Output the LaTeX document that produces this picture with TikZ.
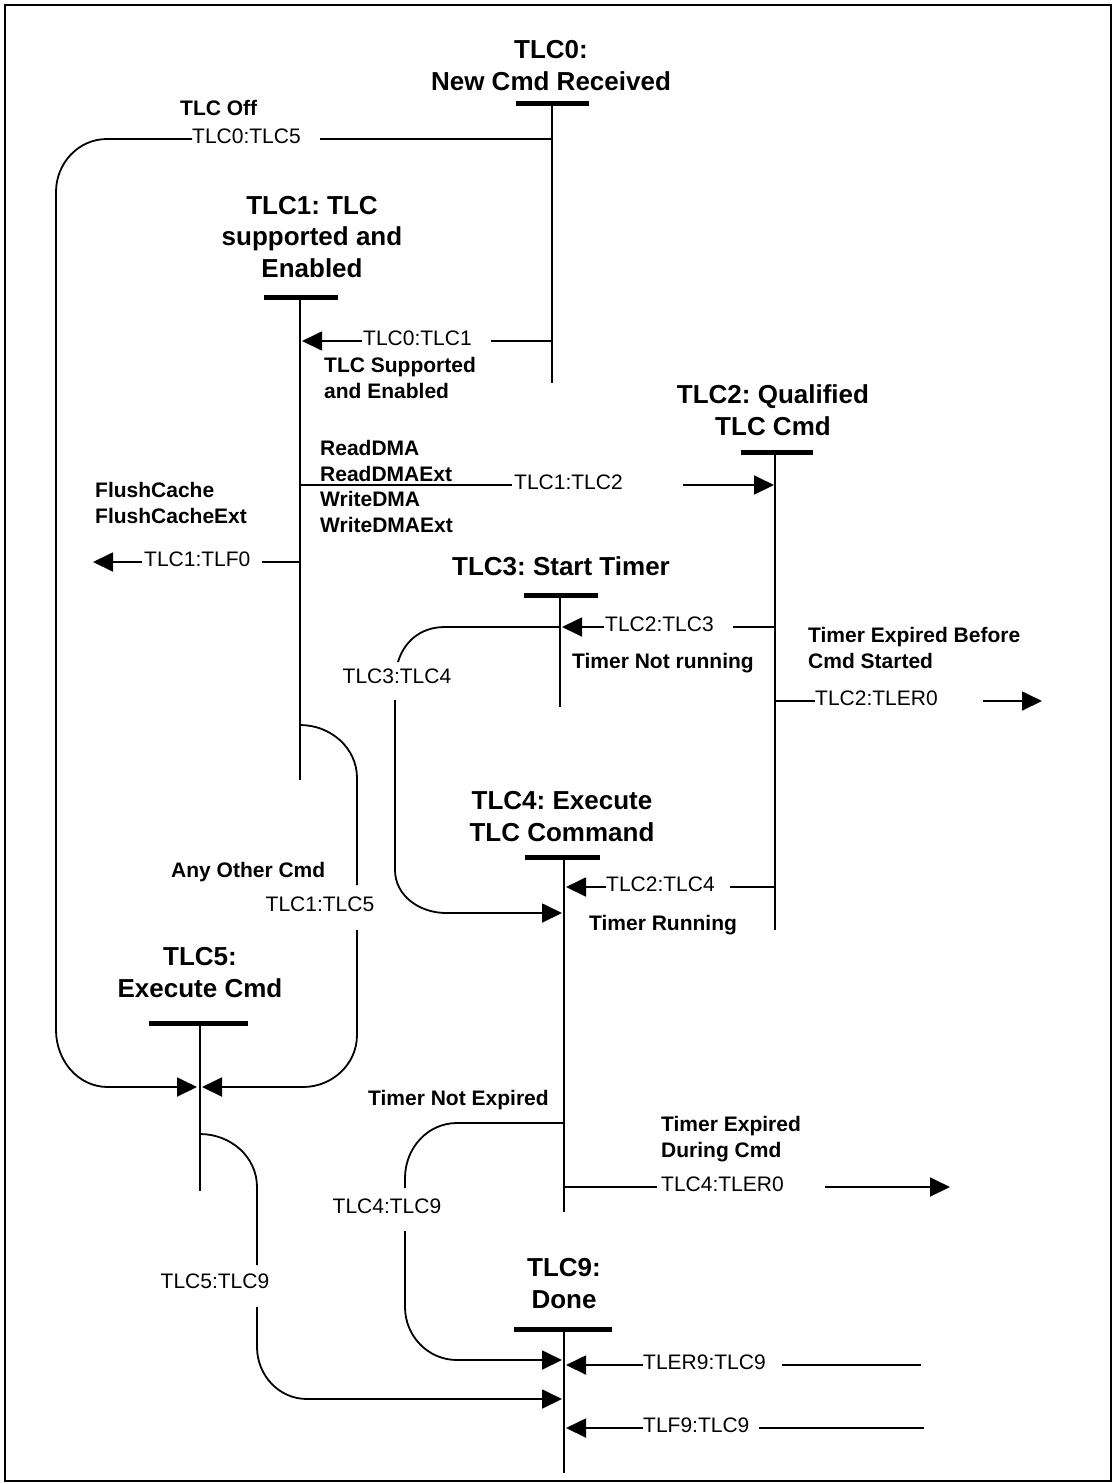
\documentclass[tikz,border=0pt]{standalone}
\usepackage{fontspec}
\setmainfont{Liberation Sans}
\usetikzlibrary{arrows.meta}
\frenchspacing
\tikzset{
  conn/.style={line width=1.8pt},
  arr/.style={conn, -{Triangle[length=20pt,width=19pt]}},
  statebar/.style={line width=5pt},
  title/.style={font=\fontsize{26}{31.5}\selectfont\bfseries, align=center, inner sep=0pt, anchor=base},
  lbl/.style={font=\fontsize{21}{25}\selectfont, inner sep=0pt, anchor=base west},
  clbl/.style={font=\fontsize{21}{25}\selectfont, inner sep=0pt, anchor=base},
  blbl/.style={font=\fontsize{21}{25.5}\selectfont\bfseries, inner sep=0pt, anchor=base west, align=left},
}
\begin{document}
\begin{tikzpicture}[x=1pt,y=-1pt]
\useasboundingbox (0,0) rectangle (1115,1484);
\draw[line width=2pt] (5,5) rectangle (1111,1481);

% ---------- states (anchor = baseline of last line) ----------
\node[title] (t0) at (551,90) {TLC0:\\New Cmd Received};
\node[title] (t1) at (312,277) {TLC1: TLC\\supported and\\Enabled};
\node[title] (t2) at (773,435) {TLC2: Qualified\\TLC Cmd};
\node[title] (t3) at (561,575) {TLC3: Start Timer};
\node[title] (t4) at (562,841) {TLC4: Execute\\TLC Command};
\node[title] (t5) at (200,997) {TLC5:\\Execute Cmd};
\node[title] (t9) at (564,1308) {TLC9:\\Done};

% bars
\draw[statebar] (516,103) -- (589,103);
\draw[statebar] (264,297) -- (338,297);
\draw[statebar] (741,452) -- (813,452);
\draw[statebar] (524,595) -- (598,595);
\draw[statebar] (525,857) -- (600,857);
\draw[statebar] (149,1023) -- (248,1023);
\draw[statebar] (514,1329) -- (612,1329);

% lifelines
\coordinate (s0) at (552,103);  \coordinate (e0) at (552,383);
\coordinate (s1) at (300,297);  \coordinate (e1) at (300,780);
\coordinate (s2) at (775,452);  \coordinate (e2) at (775,930);
\coordinate (s3) at (560,595);  \coordinate (e3) at (560,707);
\coordinate (s4) at (564,857);  \coordinate (e4) at (564,1212);
\coordinate (s5) at (200,1023); \coordinate (e5) at (200,1191);
\coordinate (s9) at (564,1329); \coordinate (e9) at (564,1473);
\foreach \i in {0,1,2,3,4,5,9} { \draw[conn] (s\i) -- (e\i); }

% ---------- TLC0:TLC5 ----------
\node[blbl] (c05) at (180,115) {TLC Off};
\node[lbl] (l05) at (192,143) {TLC0:TLC5};
\coordinate (a05) at (552,139); \coordinate (b05) at (320,139);
\coordinate (p05) at (192,139);
\draw[conn] (a05) -- (b05);
\draw[arr] (p05) -- (107,139) to[out=180,in=90] (56,192) -- (56,1030)
   to[out=-90,in=180] (108,1087) -- (197,1087);

% ---------- TLC0:TLC1 ----------
\node[lbl] (l01) at (363,345) {TLC0:TLC1};
\node[blbl] (c01) at (324,398) {TLC Supported\\and Enabled};
\coordinate (a01) at (552,341); \coordinate (b01) at (491,341);
\coordinate (p01) at (362,341); \coordinate (q01) at (302,341);
\draw[conn] (a01) -- (b01);
\draw[arr] (p01) -- (q01);

% ---------- TLC1:TLC2 ----------
\node[blbl] (c12) at (320,532) {ReadDMA\\ReadDMAExt\\WriteDMA\\WriteDMAExt};
\node[lbl] (l12) at (514,489) {TLC1:TLC2};
\coordinate (a12) at (300,485); \coordinate (b12) at (512,485);
\coordinate (p12) at (683,485); \coordinate (q12) at (774,485);
\draw[conn] (a12) -- (b12);
\draw[arr] (p12) -- (q12);

% ---------- TLC1:TLF0 ----------
\node[blbl] (c1f) at (95,523) {FlushCache\\FlushCacheExt};
\node[lbl] (l1f) at (144,566) {TLC1:TLF0};
\coordinate (a1f) at (300,562); \coordinate (b1f) at (262,562);
\coordinate (p1f) at (142,562); \coordinate (q1f) at (93,562);
\draw[conn] (a1f) -- (b1f);
\draw[arr] (p1f) -- (q1f);

% ---------- TLC2:TLC3 ----------
\node[lbl] (l23) at (605,631) {TLC2:TLC3};
\node[blbl] (c23) at (572,668) {Timer Not running};
\coordinate (a23) at (775,627); \coordinate (b23) at (733,627);
\coordinate (p23) at (604,627); \coordinate (q23) at (562,627);
\draw[conn] (a23) -- (b23);
\draw[arr] (p23) -- (q23);

% ---------- TLC3:TLC4 ----------
\node[clbl] (l34) at (397,683) {TLC3:TLC4};
\coordinate (a34) at (560,627); \coordinate (b34) at (398,662);
\coordinate (p34) at (395,700); \coordinate (q34) at (562,913);
\draw[conn] (a34) -- (445,627) .. controls (420,627) and (404,642) .. (b34);
\draw[arr] (p34) -- (395,870) to[out=-90,in=180] (446,913) -- (q34);

% ---------- TLC2:TLER0 ----------
\node[blbl] (c2e) at (808,668) {Timer Expired Before\\Cmd Started};
\node[lbl] (l2e) at (815,705) {TLC2:TLER0};
\coordinate (a2e) at (775,701); \coordinate (b2e) at (815,701);
\coordinate (p2e) at (983,701); \coordinate (q2e) at (1042,701);
\draw[conn] (a2e) -- (b2e);
\draw[arr] (p2e) -- (q2e);

% ---------- TLC1:TLC5 ----------
\node[blbl] (c15) at (171,877) {Any Other Cmd};
\node[clbl] (l15) at (320,911) {TLC1:TLC5};
\coordinate (a15) at (300,725); \coordinate (b15) at (357,885);
\coordinate (p15) at (357,930); \coordinate (q15) at (202,1087);
\draw[conn] (a15) to[out=0,in=90] (357,778) -- (b15);
\draw[arr] (p15) -- (357,1035) to[out=-90,in=0] (303,1087) -- (q15);

% ---------- TLC2:TLC4 ----------
\node[lbl] (l24) at (606,891) {TLC2:TLC4};
\node[blbl] (c24) at (589,930) {Timer Running};
\coordinate (a24) at (775,887); \coordinate (b24) at (730,887);
\coordinate (p24) at (606,887); \coordinate (q24) at (566,887);
\draw[conn] (a24) -- (b24);
\draw[arr] (p24) -- (q24);

% ---------- TLC4:TLC9 ----------
\node[blbl] (c49) at (368,1105) {Timer Not Expired};
\node[clbl] (l49) at (387,1213) {TLC4:TLC9};
\coordinate (a49) at (564,1123); \coordinate (b49) at (405,1188);
\coordinate (p49) at (405,1231); \coordinate (q49) at (562,1360);
\draw[conn] (a49) -- (457,1123) to[out=180,in=90] (405,1178) -- (b49);
\draw[arr] (p49) -- (405,1307) to[out=-90,in=180] (457,1360) -- (q49);

% ---------- TLC4:TLER0 ----------
\node[blbl] (c4e) at (661,1157) {Timer Expired\\During Cmd};
\node[lbl] (l4e) at (661,1191) {TLC4:TLER0};
\coordinate (a4e) at (564,1187); \coordinate (b4e) at (657,1187);
\coordinate (p4e) at (825,1187); \coordinate (q4e) at (950,1187);
\draw[conn] (a4e) -- (b4e);
\draw[arr] (p4e) -- (q4e);

% ---------- TLC5:TLC9 ----------
\node[clbl] (l59) at (215,1288) {TLC5:TLC9};
\coordinate (a59) at (200,1134); \coordinate (b59) at (257,1265);
\coordinate (p59) at (257,1307); \coordinate (q59) at (562,1399);
\draw[conn] (a59) to[out=0,in=90] (257,1187) -- (b59);
\draw[arr] (p59) -- (257,1347) to[out=-90,in=180] (307,1399) -- (q59);

% ---------- TLER9:TLC9 ----------
\node[lbl] (le9) at (643,1369) {TLER9:TLC9};
\coordinate (ae9) at (921,1365); \coordinate (be9) at (782,1365);
\coordinate (pe9) at (643,1365); \coordinate (qe9) at (566,1365);
\draw[conn] (ae9) -- (be9);
\draw[arr] (pe9) -- (qe9);

% ---------- TLF9:TLC9 ----------
\node[lbl] (lf9) at (643,1432) {TLF9:TLC9};
\coordinate (af9) at (924,1428); \coordinate (bf9) at (759,1428);
\coordinate (pf9) at (643,1428); \coordinate (qf9) at (566,1428);
\draw[conn] (af9) -- (bf9);
\draw[arr] (pf9) -- (qf9);
\end{tikzpicture}
\end{document}
